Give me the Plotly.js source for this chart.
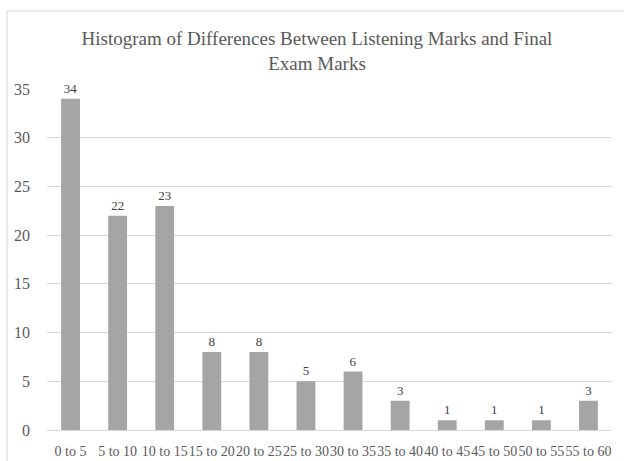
<!DOCTYPE html>
<html>
<head>
<meta charset="utf-8">
<script src="https://cdn.plot.ly/plotly-3.0.1.min.js"></script>
<style>
  html, body { margin: 0; padding: 0; background: #fff; overflow: hidden; }
  #chart { position: absolute; left: 0; top: 0; width: 624px; height: 461px; }
</style>
</head>
<body>
<div id="chart"></div>
<script>
const categories = ["0 to 5", "5 to 10", "10 to 15", "15 to 20", "20 to 25", "25 to 30",
                    "30 to 35", "35 to 40", "40 to 45", "45 to 50", "50 to 55", "55 to 60"];
const counts = [34, 22, 23, 8, 8, 5, 6, 3, 1, 1, 1, 3];
const yTicks = [0, 5, 10, 15, 20, 25, 30, 35];
const chartTitle = "Histogram of Differences Between Listening Marks and Final<br>Exam Marks";

const serif = "Liberation Serif";

const trace = {
  type: "bar",
  x: categories,
  y: counts,
  text: counts.map(String),
  textposition: "outside",
  textfont: { family: serif, size: 13, color: "#404040" },
  cliponaxis: false,
  marker: { color: "#a5a5a5" }
};

const layout = {
  width: 624,
  height: 461,
  font: { family: serif, color: "#595959" },
  margin: { l: 47, r: 12, t: 89, b: 31 },
  bargap: 0.6,
  showlegend: false,
  title: {
    text: chartTitle,
    font: { family: serif, size: 19, color: "#595959" },
    x: 0.508,
    xanchor: "center",
    y: 1 - 45 / 461,
    yanchor: "top"
  },
  xaxis: {
    type: "category",
    tickfont: { family: serif, size: 14, color: "#595959" },
    showgrid: false,
    showline: true,
    linecolor: "#d9d9d9",
    linewidth: 1,
    ticks: "",
    ticklabelstandoff: 8,
    tickangle: 0
  },
  yaxis: {
    range: [0, 35],
    tickvals: yTicks,
    ticktext: yTicks.map(String),
    tickfont: { family: serif, size: 16, color: "#595959" },
    showgrid: true,
    gridcolor: "#d9d9d9",
    gridwidth: 1,
    zeroline: false,
    showline: false,
    ticks: "",
    ticklabelstandoff: 16
  },
  shapes: [
    { type: "line", xref: "paper", yref: "paper", x0: -40 / 565, x1: 1.05, y0: 419 / 341, y1: 419 / 341,
      line: { color: "#d9d9d9", width: 1 } },
    { type: "line", xref: "paper", yref: "paper", x0: -40 / 565, x1: -40 / 565, y0: 419 / 341, y1: -0.12,
      line: { color: "#d9d9d9", width: 1 } }
  ]
};

Plotly.newPlot("chart", [trace], layout, { displayModeBar: false, staticPlot: true });
</script>
</body>
</html>
